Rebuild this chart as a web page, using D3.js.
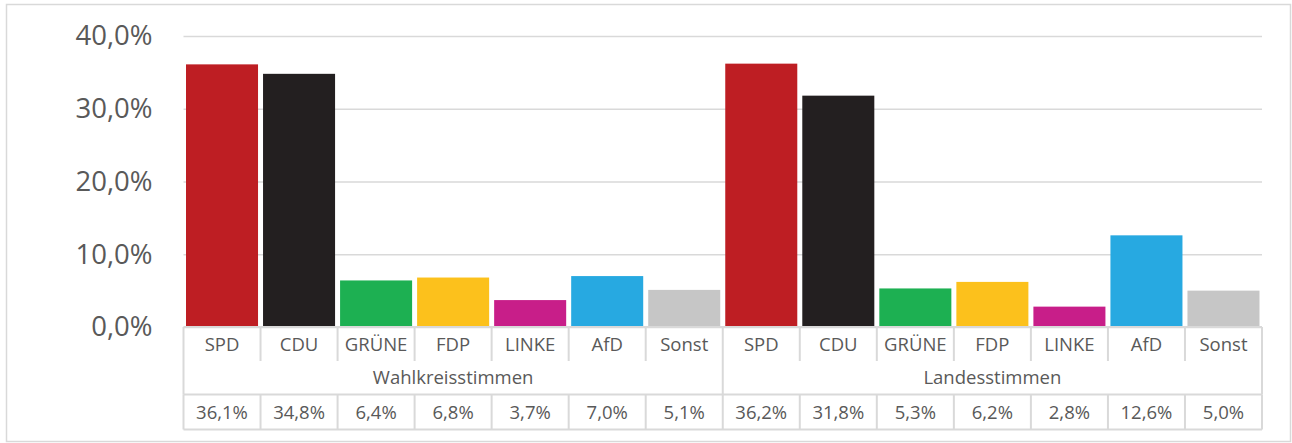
<!DOCTYPE html>
<html>
<head>
<meta charset="utf-8">
<script src="https://cdn.jsdelivr.net/npm/d3@7"></script>
<style>
body { margin: 0; background: #fff; }
text { font-family: "Open Sans", Lato, sans-serif; fill: #595959; }
</style>
</head>
<body>
<script>
var parties = ["SPD", "CDU", "GRÜNE", "FDP", "LINKE", "AfD", "Sonst"];
var groups = ["Wahlkreisstimmen", "Landesstimmen"];
var wahlkreis = [36.1, 34.8, 6.4, 6.8, 3.7, 7.0, 5.1];
var landes = [36.2, 31.8, 5.3, 6.2, 2.8, 12.6, 5.0];
var colors = ["#be1e23", "#231f20", "#1db052", "#fcc11c", "#c81e89", "#27a9e1", "#c6c6c6"];
var yTicks = [0, 10, 20, 30, 40];

const width = 1292, height = 443;
var left = 183.5, right = 1262, top0 = 36, zeroY = 327;

// flatten the two groups into 14 bars
var rows = [];
groups.forEach(function(g, gi){
    var vals = gi == 0 ? wahlkreis : landes;
    parties.forEach(function(p, i){
        rows.push({group: g, party: p, value: vals[i], color: colors[i], id: gi + "-" + p});
    });
});

var svg = d3.select("body")
    .append("svg")
    .attr("width", width)
    .attr("height", height)

// outer frame
svg.append("rect")
    .attr("x", 6.5).attr("y", 4.5)
    .attr("width", 1284).attr("height", 437)
    .style("fill", "none").style("stroke", "#d9d9d9").style("stroke-width", 1.5);

var x = d3.scaleBand()
    .domain(rows.map(function(d){return d.id}))
    .range([left, right])
    .paddingInner(0.065)
    .paddingOuter(0.0325);

var y = d3.scaleLinear().domain([0, 40]).range([zeroY, top0]);

// grid + y labels
var yAxis = svg.append("g")
    .attr("transform", "translate(" + left + ",0)")
    .call(d3.axisLeft(y).tickValues(yTicks)
        .tickSize(-(right - left))
        .tickPadding(31)
        .tickFormat(function(d){return d3.format(".1f")(d).replace(".", ",") + "%"}));
yAxis.select(".domain").remove();
yAxis.selectAll(".tick line").style("stroke", "#d9d9d9").style("stroke-width", 1.5);
yAxis.selectAll(".tick text").style("font-size", "27.5px").style("fill", "#595959")
    .style("font-family", "'Open Sans', Lato, sans-serif");

// bars
svg.selectAll("rect.bar")
    .data(rows)
    .enter()
    .append("rect")
    .attr("class", "bar")
    .attr("x", function(d){return x(d.id)})
    .attr("y", function(d){return y(d.value)})
    .attr("width", x.bandwidth())
    .attr("height", function(d){return zeroY - y(d.value)})
    .style("fill", function(d){return d.color});

// data table under the chart
var step = x.step();
var r1 = zeroY, r2 = 361, r3 = 394.5, r4 = 429.5;
var lineColor = "#d9d9d9";
var fs = "18.5px";
var edges = rows.map(function(d){return x(d.id) - x.paddingInner() * step / 2});
edges.push(right);
edges[0] = left;

var tbl = svg.append("g").style("stroke", lineColor).style("stroke-width", 2);
tbl.append("line").attr("x1", left).attr("x2", right).attr("y1", r1).attr("y2", r1);
tbl.append("line").attr("x1", left).attr("x2", right).attr("y1", r3).attr("y2", r3);
tbl.append("line").attr("x1", left).attr("x2", right).attr("y1", r4).attr("y2", r4);
edges.forEach(function(e, i){
    var full = (i == 0 || i == parties.length || i == edges.length - 1);
    tbl.append("line").attr("x1", e).attr("x2", e).attr("y1", r1).attr("y2", full ? r3 : r2);
    tbl.append("line").attr("x1", e).attr("x2", e).attr("y1", r3).attr("y2", r4);
});

svg.selectAll("text.cat")
    .data(rows)
    .enter()
    .append("text")
    .attr("class", "cat")
    .attr("x", function(d){return x(d.id) + x.bandwidth() / 2})
    .attr("y", (r1 + r2) / 2 + 6.5)
    .attr("text-anchor", "middle")
    .style("font-size", fs)
    .text(function(d){return d.party});

svg.selectAll("text.grp")
    .data(groups)
    .enter()
    .append("text")
    .attr("class", "grp")
    .attr("x", function(d, i){return (edges[i * parties.length] + edges[(i + 1) * parties.length]) / 2})
    .attr("y", (r2 + r3) / 2 + 6.5)
    .attr("text-anchor", "middle")
    .style("font-size", fs)
    .text(function(d){return d});

svg.selectAll("text.val")
    .data(rows)
    .enter()
    .append("text")
    .attr("class", "val")
    .attr("x", function(d){return x(d.id) + x.bandwidth() / 2})
    .attr("y", (r3 + r4) / 2 + 6.5)
    .attr("text-anchor", "middle")
    .style("font-size", fs)
    .text(function(d){return d3.format(".1f")(d.value).replace(".", ",") + "%"});
</script>
</body>
</html>
